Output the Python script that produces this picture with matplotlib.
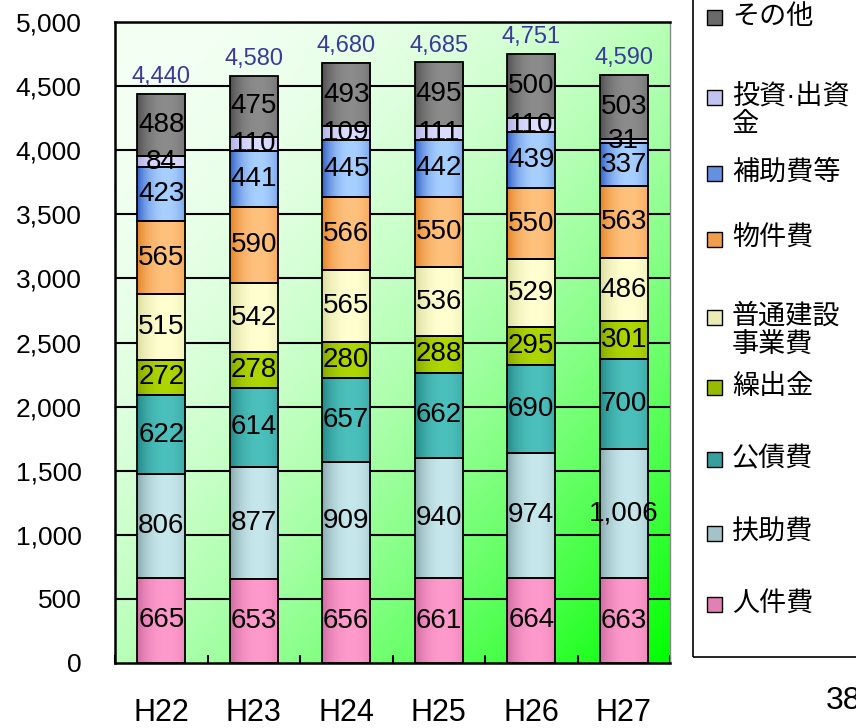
import numpy as np
import matplotlib
matplotlib.use("Agg")
import matplotlib.pyplot as plt
from matplotlib.patches import Rectangle
from matplotlib.colors import to_rgb
from matplotlib.ticker import FuncFormatter

years = ["H22", "H23", "H24", "H25", "H26", "H27"]

jinkenhi = [665, 653, 656, 661, 664, 663]
fujohi = [806, 877, 909, 940, 974, 1006]
kousaihi = [622, 614, 657, 662, 690, 700]
kuridashikin = [272, 278, 280, 288, 295, 301]
futsuu_kensetsu = [515, 542, 565, 536, 529, 486]
bukkenhi = [565, 590, 566, 550, 550, 563]
hojohi = [423, 441, 445, 442, 439, 337]
toushi = [84, 110, 109, 111, 110, 31]
sonota = [488, 475, 493, 495, 500, 503]

series = [jinkenhi, fujohi, kousaihi, kuridashikin, futsuu_kensetsu,
          bukkenhi, hojohi, toushi, sonota]
labels = ["人件費", "扶助費", "公債費", "繰出金", "普通建設\n事業費",
          "物件費", "補助費等", "投資·出資\n金", "その他"]
# (edge shade, highlight) for the cylinder-like fill of each series
shades = [("#c8669a", "#ff9acc"),
          ("#7f9fa4", "#c6e8ec"),
          ("#1e8080", "#4cc0bc"),
          ("#7f9f00", "#aed600"),
          ("#d6d69a", "#ffffd0"),
          ("#e07a1a", "#ffc27e"),
          ("#2050c0", "#a8d0ff"),
          ("#aaaae2", "#dcdcff"),
          ("#484848", "#8c8c8c")]

LATIN = "Liberation Sans"
# Latin glyphs (e.g. the narrow middle dot) from Liberation, kanji/kana from Noto CJK
CJK = ["Liberation Sans", "Noto Sans CJK JP", "DejaVu Sans"]

fig = plt.figure(figsize=(8.56, 7.28), dpi=100)
ax = fig.add_axes([115 / 856, 1 - 663 / 728, 555 / 856, 641 / 728])

n = len(years)
x = np.arange(n)
ax.set_xlim(-0.5, n - 0.5)
ax.set_ylim(0, 5000)

# diagonal gradient: near white at top-left, bright green at bottom-right
gx, gy = np.meshgrid(np.linspace(0, 1, 240), np.linspace(0, 1, 240))
t = np.clip(0.5 * gx + 0.5 * gy, 0, 1) ** 2.0
bg = np.dstack([0.96 * (1 - t), np.ones_like(t), 0.96 * (1 - t)])
ax.imshow(bg, extent=(-0.5, n - 0.5, 0, 5000), origin="upper",
          aspect="auto", zorder=0, interpolation="bilinear")

# horizontal gridlines
for yv in range(500, 5001, 500):
    ax.axhline(yv, color="black", lw=1.5, zorder=1)

# bar fill profile: darker edges, highlight right of centre
u = np.linspace(0, 1, 64)
mix = np.clip(1 - ((u - 0.6) / 0.62) ** 2, 0, 1) ** 0.8

bw = 0.52
bottoms = np.zeros(n)
for vals, (dark, light) in zip(series, shades):
    d = np.array(to_rgb(dark))
    l = np.array(to_rgb(light))
    grad = (d[None, :] * (1 - mix[:, None]) + l[None, :] * mix[:, None])[None, :, :]
    for i, v in enumerate(vals):
        b = bottoms[i]
        ax.imshow(grad, extent=(x[i] - bw / 2, x[i] + bw / 2, b, b + v),
                  aspect="auto", zorder=2, interpolation="bilinear")
        ax.add_patch(Rectangle((x[i] - bw / 2, b), bw, v, fill=False,
                               edgecolor="black", lw=1.3, zorder=3))
        ax.text(x[i], b + v / 2, f"{v:,}", ha="center", va="center",
                fontsize=20, family=LATIN, color="black", zorder=4)
    bottoms += np.array(vals)

# totals above each bar
for i, tot in enumerate(bottoms):
    ax.annotate(f"{int(tot):,}", (x[i], tot), xytext=(0, 4),
                textcoords="offset points", ha="center", va="bottom",
                fontsize=17, family=LATIN, color="#3a3a9e", zorder=4)

ax.set_xlim(-0.5, n - 0.5)
ax.set_ylim(0, 5000)

ax.set_yticks(range(0, 5001, 500))
ax.yaxis.set_major_formatter(FuncFormatter(lambda v, p: f"{int(v):,}"))
ax.tick_params(axis="y", length=0, pad=24, labelsize=19)
ax.set_xticks(x)
ax.set_xticklabels(years)
ax.tick_params(axis="x", which="major", length=0, pad=25, labelsize=22)
ax.set_xticks(np.arange(-0.5, n, 1.0), minor=True)
ax.tick_params(axis="x", which="minor", direction="in", length=6,
               width=1.5, color="black")
for lab in ax.get_xticklabels() + ax.get_yticklabels():
    lab.set_family(LATIN)

for side in ("left", "bottom", "top"):
    ax.spines[side].set_linewidth(1.8)
    ax.spines[side].set_color("black")
ax.spines["right"].set_color("#888888")
ax.spines["right"].set_linewidth(1.0)

# legend panel on the right
fig.patches.append(Rectangle((693 / 856, 1 - 657 / 728), 0.3, 1.0,
                             transform=fig.transFigure, fill=False,
                             edgecolor="black", lw=1.2, zorder=5))
legend_rows = [
    (8, 17), (7, 97), (6, 173), (5, 239), (4, 317),
    (3, 387), (2, 459), (1, 533), (0, 604),
]
for idx, py in legend_rows:
    dark, light = shades[idx]
    c = 0.5 * (np.array(to_rgb(dark)) + np.array(to_rgb(light)))
    fig.patches.append(Rectangle((707 / 856, 1 - (py + 8) / 728),
                                 15 / 856, 15 / 728,
                                 transform=fig.transFigure,
                                 facecolor=c, edgecolor="black", lw=1.0))
    lines = labels[idx].split("\n")
    for k, line in enumerate(lines):
        fig.text(732 / 856, 1 - (py + 28 * k) / 728, line, ha="left",
                 va="center", fontsize=19.5, family=CJK, color="black")

fig.text(826 / 856, 1 - 701 / 728, "38", ha="left", va="center",
         fontsize=23, family=LATIN, color="black")

fig.savefig("out.png", dpi=100)
